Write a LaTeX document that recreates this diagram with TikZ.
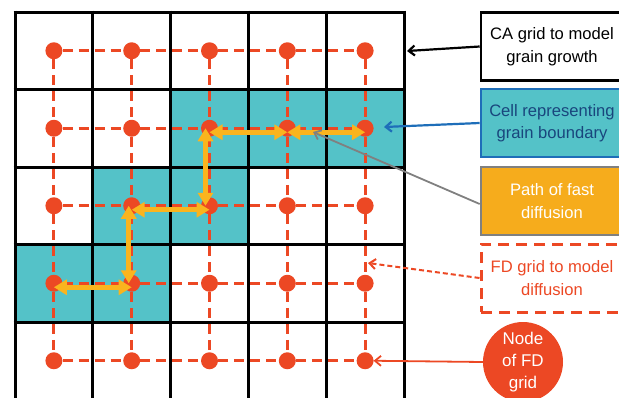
\documentclass[tikz,border=0pt]{standalone}
\usepackage{fontspec}
\setmainfont{Liberation Sans}
\usetikzlibrary{arrows.meta}
\definecolor{T}{RGB}{84,194,200}
\definecolor{R}{RGB}{236,72,36}
\definecolor{Y}{RGB}{250,180,30}
\definecolor{O}{RGB}{246,172,28}
\definecolor{B}{RGB}{30,110,185}
\definecolor{BT}{RGB}{25,70,125}
\tikzset{
  gridline/.style={black, line width=3pt},
  fdline/.style={R, line width=3pt, dash pattern=on 10pt off 6pt},
  fdnode/.style={circle, fill=R, inner sep=0pt, minimum size=17pt},
  fastpath/.style={Y, line width=5pt, {Triangle[length=13pt,width=15pt]}-{Triangle[length=13pt,width=15pt]}},
  legend/.style={minimum width=142pt, minimum height=68pt, align=center,
    font=\fontsize{16.6}{22.5}\selectfont, line width=2.6pt}
}
\begin{document}
\begin{tikzpicture}[x=1pt,y=-1pt]
   \useasboundingbox (0,0) rectangle (619,397);
   % cells on the grain boundary
   \fill[T] (170.6,89.5) rectangle (404,167);
   \fill[T] (92.8,167) rectangle (248.4,244.5);
   \fill[T] (15,244.5) rectangle (170.6,322);
   % CA grid
   \foreach \i in {0,...,5}
      \draw[gridline] (15+77.8*\i,10.5) -- (15+77.8*\i,400);
   \foreach \j in {0,...,4}
      \draw[gridline] (13.5,12+77.5*\j) -- (405.5,12+77.5*\j);
   % FD grid
   \foreach \i in {1,...,5}
      \foreach \j in {1,...,5}
         \node[fdnode] (n\i\j) at (15+77.8*\i-38.9, 12+77.5*\j-38.75) {};
   \foreach \i in {1,...,5}
      \foreach \j/\k in {1/2,2/3,3/4,4/5} {
         \draw[fdline] (n\i\j) -- (n\i\k);
         \draw[fdline] (n\j\i) -- (n\k\i);
      }
   % path of fast diffusion
   \draw[fastpath] ([yshift=-4pt]n14.center) -- ([yshift=-4pt]n24.center);
   \draw[fastpath] ([xshift=-3pt]n24.center) -- ([xshift=-3pt]n23.center);
   \draw[fastpath] ([yshift=-4pt]n23.center) -- ([yshift=-4pt]n33.center);
   \draw[fastpath] ([xshift=-4pt]n33.center) -- ([xshift=-4pt]n32.center);
   \draw[fastpath] ([yshift=-4pt]n32.center) -- ([yshift=-4pt]n42.center);
   \draw[fastpath] ([yshift=-4pt]n42.center) -- ([yshift=-4pt]n52.center);
   % legend
   \node[legend, draw=black, fill=white] (ca) at (552,46.5) {CA grid to model\\grain growth};
   \node[legend, draw=B, fill=T, text=BT] (cell) at (552,123) {Cell representing\\grain boundary};
   \node[legend, draw=gray, fill=O, text=white] (fast) at (552,201) {Path of fast\\diffusion};
   \node[legend, draw=R, dash pattern=on 11pt off 7pt, line width=3pt, text=R] (fd) at (552,278) {FD grid to model\\diffusion};
   \node[circle, fill=R, minimum size=80pt, inner sep=0pt, align=center, text=white,
      font=\fontsize{17}{22}\selectfont] (node) at (523,362) {Node\\of FD\\grid};
   \coordinate (caend) at (407,51);
   \coordinate (cellend) at (384,127);
   \coordinate (fastend) at (313,132);
   \coordinate (fdend) at (368,263);
   \draw[black, line width=2.2pt, -{Straight Barb[length=6pt,width=10pt]}] (ca.west) -- (caend);
   \draw[B, line width=2.2pt, -{Straight Barb[length=6pt,width=10pt]}] (cell.west) -- (cellend);
   \draw[gray, line width=1.8pt, -{Straight Barb[length=6pt,width=10pt]}] ([yshift=-3pt]fast.west) -- (fastend);
   \draw[R, line width=2pt, dash pattern=on 5pt off 3pt, -{Straight Barb[length=6pt,width=10pt]}] (fd.west) -- (fdend);
   \draw[R, line width=1.8pt, -{Straight Barb[length=6pt,width=10pt]}] (node.west) -- ([xshift=8.5pt]n55.center);
\end{tikzpicture}
\end{document}
